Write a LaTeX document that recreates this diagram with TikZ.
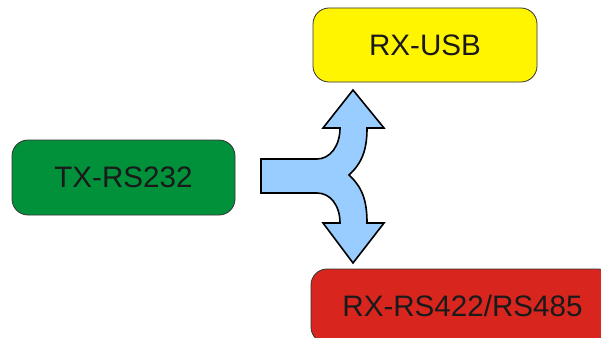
\documentclass[tikz,border=0pt]{standalone}
\usepackage{fontspec}
\setmainfont{Liberation Sans}
\definecolor{boxgreen}{HTML}{00913A}
\definecolor{boxyellow}{HTML}{FFF500}
\definecolor{boxred}{HTML}{D8261E}
\definecolor{arrowblue}{HTML}{99CCFF}
\definecolor{txt}{HTML}{1A1A1A}
\definecolor{edge}{HTML}{333333}
\begin{document}
\begin{tikzpicture}[x=1pt,y=-1pt,
  blockbox/.style={draw=edge, line width=0.8pt, rounded corners=16pt, inner sep=0pt,
    text=txt, font=\fontsize{29.6}{32}\selectfont},
  splitarrow/.style={draw=black, line width=1.6pt, fill=arrowblue, line join=miter}]
\clip (0,0) rectangle (601,337);
\fill[white] (0,0) rectangle (601,337);
\node[blockbox, fill=boxgreen, minimum width=223pt, minimum height=75pt] (tx) at (123.5,177.5) {TX-RS232};
\node[blockbox, fill=boxyellow, minimum width=224pt, minimum height=74pt] (usb) at (425,45) {RX-USB};
\node[blockbox, fill=boxred, minimum width=303pt, minimum height=74pt] (rs) at (462.5,306) {RX-RS422/RS485};
\draw[splitarrow] (261,159) -- (317,159)
  .. controls (330,159) and (340,146) .. (340,128)
  -- (323,128) -- (353,90) -- (384,128) -- (367,128)
  .. controls (367,150) and (362,163) .. (349,175)
  .. controls (362,187) and (367,200) .. (367,223)
  -- (384,223) -- (353,263) -- (323,223) -- (340,223)
  .. controls (340,205) and (330,193) .. (317,193)
  -- (261,193) -- cycle;
\end{tikzpicture}
\end{document}
